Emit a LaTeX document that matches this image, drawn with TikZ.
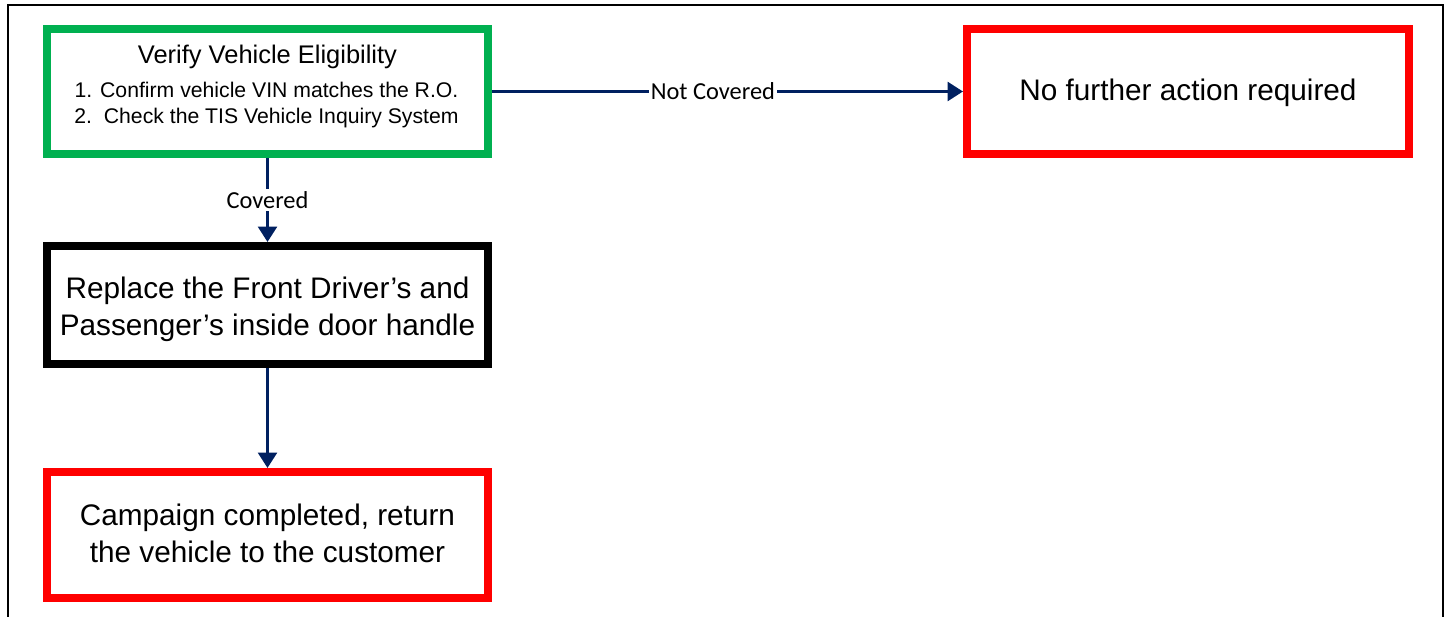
\documentclass[tikz,border=0pt]{standalone}
\usepackage{fontspec}
\setmainfont{Liberation Sans}
\newfontfamily\labelfont{Carlito}
\usetikzlibrary{arrows.meta,shadows}
\definecolor{boxgreen}{HTML}{00B050}
\definecolor{boxred}{HTML}{FF0000}
\definecolor{navy}{HTML}{002060}
\definecolor{shadowblue}{HTML}{C9D6EA}
\tikzset{
  box/.style={draw, line width=6pt, fill=white, inner sep=0pt,
    drop shadow={shadow xshift=1.5pt, shadow yshift=-1.5pt, fill=shadowblue, opacity=0.6}},
  greenbox/.style={box, draw=boxgreen},
  redbox/.style={box, draw=boxred},
  blackbox/.style={box, draw=black},
  bigtext/.style={anchor=base, inner sep=0pt, font=\fontsize{22.3}{26}\selectfont},
  titletext/.style={anchor=base, inner sep=0pt, font=\fontsize{19.1}{22}\selectfont},
  listtext/.style={anchor=base, inner sep=0pt, font=\fontsize{15.9}{19}\selectfont},
  flow/.style={draw=navy, line width=2.4pt, -{Triangle[length=11.5pt, width=14pt]}},
  flowlabel/.style={fill=white, inner sep=1.5pt, text=black, font=\labelfont\fontsize{18.3}{22}\selectfont}
}
\begin{document}
\begin{tikzpicture}[x=0.75pt, y=-0.75pt]
\useasboundingbox (0,0) rectangle (1448,617);
% outer frame
\draw[line width=1.5pt] (7.5,620) -- (7.5,5.5) -- (1443,5.5) -- (1443,620);
% boxes
\node[greenbox, minimum width=330.75pt, minimum height=93.75pt] (verify) at (267.5,91.5) {};
\node[redbox, minimum width=331.5pt, minimum height=93.75pt] (nofurther) at (1188,91.5) {};
\node[blackbox, minimum width=330.75pt, minimum height=88.5pt] (replace) at (267.5,305) {};
\node[redbox, minimum width=330.75pt, minimum height=94.5pt] (done) at (267.5,535) {};
% texts
\node[titletext] (vt) at (267.5,64) {Verify Vehicle Eligibility};
\node[listtext] (vl1) at (266.5,98) {1. Confirm vehicle VIN matches the R.O.};
\node[listtext] (vl2) at (266.5,123) {2.\ \ Check the TIS Vehicle Inquiry System};
\node[bigtext] (nft) at (1188,100) {No further action required};
\node[bigtext] (rt1) at (267.5,298) {Replace the Front Driver’s and};
\node[bigtext] (rt2) at (267.5,335) {Passenger’s inside door handle};
\node[bigtext] (dt1) at (267.5,525) {Campaign completed, return};
\node[bigtext] (dt2) at (267.5,562) {the vehicle to the customer};
% connectors
\draw[flow] (verify.east) -- node[flowlabel, pos=0.469] (nc) {Not Covered} (nofurther.west);
\draw[flow] (verify.south) -- node[flowlabel, pos=0.5] (cv) {Covered} (replace.north);
\draw[flow] (replace.south) -- (done.north);
\end{tikzpicture}
\end{document}
